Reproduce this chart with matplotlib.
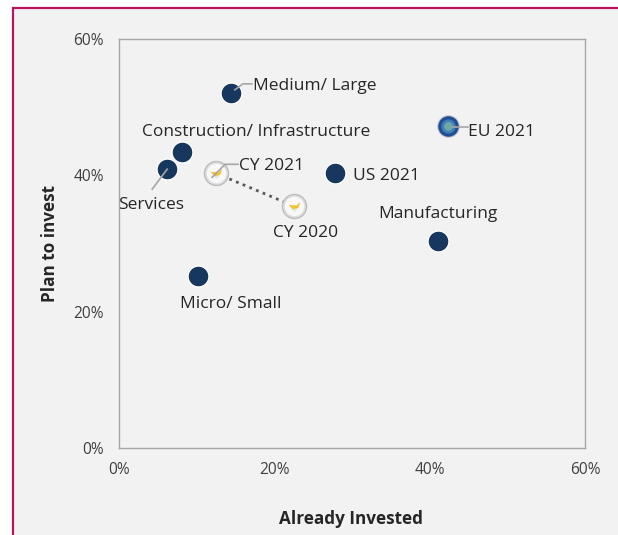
import matplotlib.pyplot as plt
from matplotlib.patches import Rectangle
from matplotlib.path import Path

plt.rcParams['font.family'] = ['Open Sans', 'DejaVu Sans']

# segments
names = ['Medium/ Large', 'Construction/ Infrastructure', 'Services', 'US 2021', 'Manufacturing', 'Micro/ Small']
already = [14.4, 8.1, 6.2, 27.8, 41.1, 10.2]
plan = [52.1, 43.4, 40.9, 40.3, 30.4, 25.2]

# Cyprus, both years
cy_names = ['CY 2021', 'CY 2020']
cy_already = [12.5, 22.5]
cy_plan = [40.3, 35.5]

eu_name = 'EU 2021'
eu_already = 42.4
eu_plan = 47.2

ticks = [0, 20, 40, 60]
tick_labels = ['0%', '20%', '40%', '60%']

text_col = '#404040'
navy = '#17375e'
px = 0.72  # one pixel in points at dpi 100

fig = plt.figure(figsize=(6.18, 5.35), dpi=100, facecolor='white')
fig.add_artist(Rectangle((13 / 618, -0.02), 1.02, 1 - 8 / 535 + 0.02, transform=fig.transFigure,
                         facecolor='#f2f2f2', edgecolor='#b8145f', linewidth=1.6, zorder=-1))

ax = fig.add_axes([119 / 618, 1 - 448 / 535, 466 / 618, 409 / 535])
ax.set_facecolor('#f2f2f2')
ax.set_xlim(0, 60)
ax.set_ylim(0, 60)
ax.set_xticks(ticks)
ax.set_xticklabels(tick_labels)
ax.set_yticks(ticks)
ax.set_yticklabels(tick_labels)
ax.tick_params(length=0, labelsize=11.2, labelcolor=text_col)
ax.tick_params(axis='y', pad=11)
ax.tick_params(axis='x', pad=10)
for s in ax.spines.values():
    s.set_color('#a6a6a6')
    s.set_linewidth(1.0)
ax.set_xlabel('Already Invested', fontsize=12.3, fontweight='bold', color='#262626')
ax.xaxis.set_label_coords(0.497, -0.151)
ax.set_ylabel('Plan to invest', fontsize=12.3, fontweight='bold', color='#262626')
ax.yaxis.set_label_coords(-0.129, 0.5)

# dotted link between the two Cyprus years
ax.plot(cy_already, cy_plan, color='#595959', linestyle=(0, (1, 1.6)), linewidth=2, zorder=2)

ax.scatter(already, plan, s=225, color=navy, edgecolor='white', linewidth=0.9, zorder=3)

# flag style markers
flag = Path([(-1, 0.3), (0.3, 0.15), (1, 0.8), (0.65, -0.25), (-0.3, -0.5), (-1, 0.3)])
branch = Path([(-0.7, -0.3), (0, -0.6), (0.7, -0.3), (0, -1), (-0.7, -0.3)])
ax.scatter(cy_already, cy_plan, s=300, color='#bdbdbd', zorder=3)
ax.scatter(cy_already, cy_plan, s=235, color='#dedede', zorder=3)
ax.scatter(cy_already, cy_plan, s=170, color='#f8f8f8', zorder=4)
ax.scatter(cy_already, cy_plan, s=55, marker=branch, color='#cfe8d2', linewidth=0, zorder=5)
ax.scatter(cy_already, cy_plan, s=70, marker=flag, color='#f2c230', linewidth=0, zorder=6)

ax.scatter([eu_already], [eu_plan], s=235, color='#c8c8c8', zorder=3)
ax.scatter([eu_already], [eu_plan], s=190, color='#1f4e96', zorder=4)
ax.scatter([eu_already], [eu_plan], s=85, color='#3f80b5', zorder=5)
ax.scatter([eu_already], [eu_plan], s=28, color='#6fa8a8', zorder=6)

# label placement, pixels from the point to the text anchor
offsets = {
    'Medium/ Large': (22, 7, 'left'),
    'Construction/ Infrastructure': (74, 20, 'center'),
    'Services': (-16, -36, 'center'),
    'US 2021': (18, -3, 'left'),
    'Manufacturing': (0, 27, 'center'),
    'Micro/ Small': (33, -28, 'center'),
    'CY 2021': (23, 7, 'left'),
    'CY 2020': (12, -27, 'center'),
    'EU 2021': (20, -6, 'left'),
}


def label(name, x, y):
    dx, dy, ha = offsets[name]
    ax.annotate(name, (x, y), xytext=(dx * px, dy * px), textcoords='offset points',
                ha=ha, va='center', fontsize=12.5, color='#262626', zorder=8)


for n, x, y in zip(names, already, plan):
    label(n, x, y)
for n, x, y in zip(cy_names, cy_already, cy_plan):
    label(n, x, y)
label(eu_name, eu_already, eu_plan)


def leader(x, y, pts):
    base = ax.transData.transform((x, y))
    inv = ax.transData.inverted()
    line = [inv.transform((base[0] + a, base[1] + b)) for a, b in pts]
    ax.plot([p[0] for p in line], [p[1] for p in line], color='#a6a6a6', linewidth=1.2, zorder=7)


leader(already[0], plan[0], [(4, 3), (12, 9), (21, 9)])
leader(already[2], plan[2], [(0, 0), (-15, -20)])
leader(cy_already[0], cy_plan[0], [(-4, -4), (9, 9), (22, 9)])
leader(eu_already, eu_plan, [(5, -1), (20, -1)])

fig.savefig('out.png', dpi=100)
